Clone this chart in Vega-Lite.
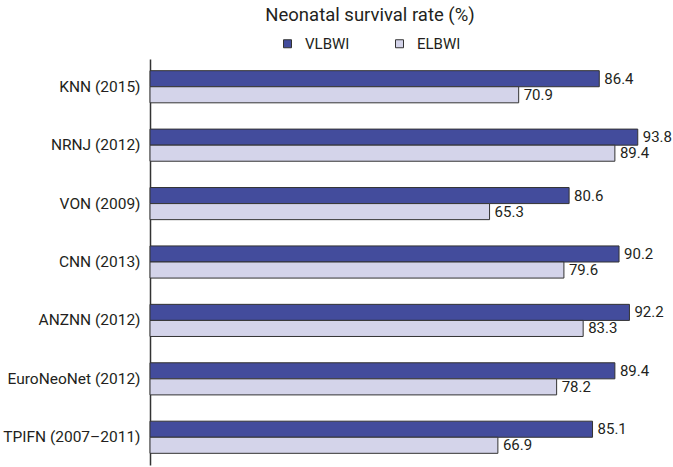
{
  "$schema": "https://vega.github.io/schema/vega-lite/v6.json",
  "width": 520,
  "height": 406,
  "autosize": "none",
  "padding": {"left": 150, "top": 59, "right": 3, "bottom": 2},
  "background": "white",
  "title": {
    "text": "Neonatal survival rate (%)",
    "font": "Roboto",
    "fontSize": 18.5,
    "fontWeight": "normal",
    "color": "#231f20",
    "anchor": "middle",
    "frame": "group",
    "dx": -40,
    "offset": 12
  },
  "data": {
    "values": [
      {"network": "KNN (2015)", "group": "VLBWI", "rate": 86.4},
      {"network": "KNN (2015)", "group": "ELBWI", "rate": 70.9},
      {"network": "NRNJ (2012)", "group": "VLBWI", "rate": 93.8},
      {"network": "NRNJ (2012)", "group": "ELBWI", "rate": 89.4},
      {"network": "VON (2009)", "group": "VLBWI", "rate": 80.6},
      {"network": "VON (2009)", "group": "ELBWI", "rate": 65.3},
      {"network": "CNN (2013)", "group": "VLBWI", "rate": 90.2},
      {"network": "CNN (2013)", "group": "ELBWI", "rate": 79.6},
      {"network": "ANZNN (2012)", "group": "VLBWI", "rate": 92.2},
      {"network": "ANZNN (2012)", "group": "ELBWI", "rate": 83.3},
      {"network": "EuroNeoNet (2012)", "group": "VLBWI", "rate": 89.4},
      {"network": "EuroNeoNet (2012)", "group": "ELBWI", "rate": 78.2},
      {"network": "TPIFN (2007–2011)", "group": "VLBWI", "rate": 85.1},
      {"network": "TPIFN (2007–2011)", "group": "ELBWI", "rate": 66.9}
    ]
  },
  "encoding": {
    "y": {
      "field": "network",
      "type": "nominal",
      "sort": null,
      "scale": {"paddingInner": 0.45, "paddingOuter": 0.2},
      "axis": {
        "title": null,
        "ticks": false,
        "labelPadding": 10,
        "labelFont": "Roboto",
        "labelFontSize": 15.5,
        "labelColor": "#231f20",
        "domainColor": "#333333",
        "domainWidth": 1.5
      }
    },
    "yOffset": {
      "field": "group",
      "type": "nominal",
      "sort": ["VLBWI", "ELBWI"],
      "scale": {"paddingInner": 0, "paddingOuter": 0}
    },
    "x": {
      "field": "rate",
      "type": "quantitative",
      "scale": {"domain": [0, 100]},
      "axis": null
    }
  },
  "layer": [
    {
      "mark": {"type": "bar", "stroke": "#333333", "strokeWidth": 1},
      "encoding": {
        "color": {
          "field": "group",
          "type": "nominal",
          "sort": ["VLBWI", "ELBWI"],
          "scale": {"domain": ["VLBWI", "ELBWI"], "range": ["#434c9c", "#d4d4ea"]},
          "legend": {
            "title": null,
            "orient": "none",
            "direction": "horizontal",
            "legendX": 130,
            "legendY": -23,
            "padding": 0,
            "symbolType": "square",
            "symbolSize": 64,
            "symbolStrokeColor": "#333333",
            "symbolStrokeWidth": 1,
            "symbolOpacity": 1,
            "labelFont": "Roboto",
            "labelFontSize": 15,
            "labelColor": "#231f20",
            "labelOffset": 10,
            "columnPadding": 42
          }
        }
      }
    },
    {
      "mark": {
        "type": "text",
        "align": "left",
        "baseline": "middle",
        "dx": 5,
        "font": "Roboto",
        "fontSize": 15,
        "color": "#231f20"
      },
      "encoding": {
        "text": {"field": "rate", "type": "quantitative", "format": ".1f"}
      }
    }
  ],
  "config": {
    "view": {"stroke": null}
  }
}
